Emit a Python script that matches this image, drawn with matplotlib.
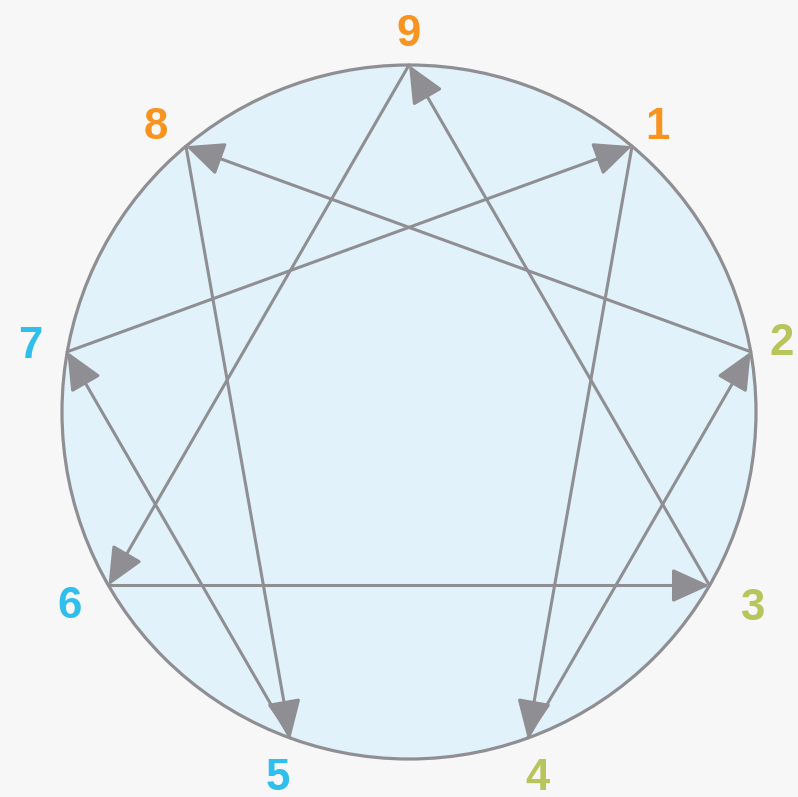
import matplotlib
matplotlib.use('Agg')
import matplotlib.pyplot as plt
from matplotlib.patches import Circle
import numpy as np

# enneagram points, clockwise from the top
points = [9, 1, 2, 3, 4, 5, 6, 7, 8]
label_colors = {9: '#f7931e', 1: '#f7931e', 8: '#f7931e',
                2: '#b8c55c', 3: '#b8c55c', 4: '#b8c55c',
                5: '#2fbfec', 6: '#2fbfec', 7: '#2fbfec'}
# where each number label sits (pixels, from top-left)
label_x = [409, 657, 782, 752, 538, 278, 70, 30, 156]
label_y = [28, 121, 337, 602, 772, 772, 601, 340, 121]
# arrows (from, to)
arrows = [(1, 4), (4, 2), (2, 8), (8, 5), (5, 7), (7, 1),
          (9, 6), (6, 3), (3, 9)]

gray = '#8f8f93'
cx, cy, r = 409, 412, 347

fig = plt.figure(figsize=(7.98, 7.97), dpi=100, facecolor='#f7f7f7')
ax = fig.add_axes([0, 0, 1, 1])
ax.set_xlim(0, 798)
ax.set_ylim(797, 0)
ax.set_aspect('equal')
ax.axis('off')

ax.add_patch(Circle((cx, cy), r, facecolor='#e1f2fa', edgecolor=gray, lw=2.3, zorder=1))


def pos(n):
    a = np.radians(40 * points.index(n))
    return cx + r * np.sin(a), cy - r * np.cos(a)


for a, b in arrows:
    ax.annotate('', xy=pos(b), xytext=pos(a),
                arrowprops=dict(arrowstyle='-|>,head_length=1.55,head_width=0.7',
                                mutation_scale=15, color=gray, lw=2.2,
                                shrinkA=0, shrinkB=0), zorder=2)

for n, x, y in zip(points, label_x, label_y):
    ax.text(x, y + 6, str(n), ha='center', va='center', fontsize=31.5,
            fontweight='bold', color=label_colors[n], family='Liberation Sans')

fig.savefig('out.png', dpi=100, facecolor=fig.get_facecolor())
